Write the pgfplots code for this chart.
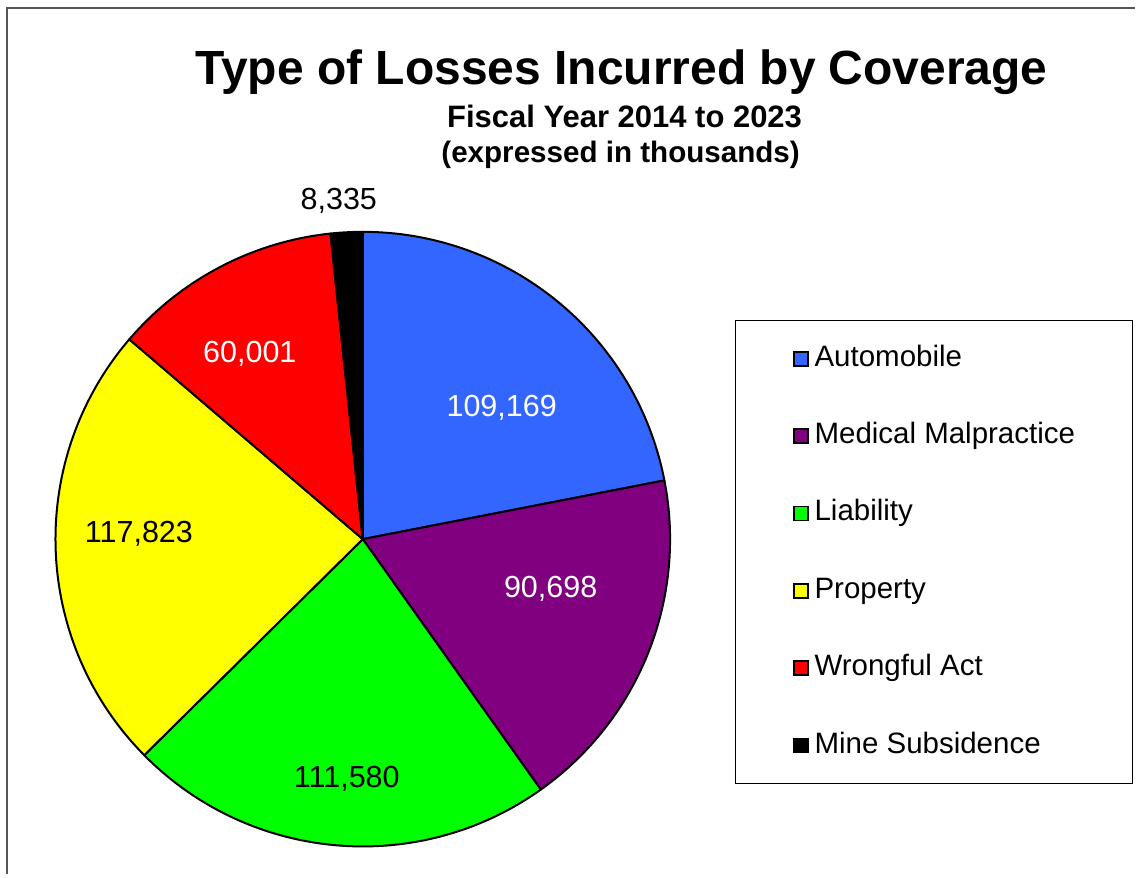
\documentclass[border=0pt]{standalone}
\usepackage{pgfplots}
\usepackage{pgfplotstable}
\pgfplotsset{compat=1.18}
\usepackage{fontspec}
\setmainfont{Liberation Sans}

\definecolor{autoblue}{HTML}{3366FF}
\definecolor{medpurple}{HTML}{800080}
\definecolor{liabgreen}{HTML}{00FF00}
\definecolor{propyellow}{HTML}{FFFF00}
\definecolor{wrongred}{HTML}{FF0000}
\definecolor{frame}{HTML}{555555}

% losses in thousands; label baseline position (px) and label colour
\pgfplotstableread[col sep=comma]{
name,value,fillc,lx,ly,lc
Automobile,109169,autoblue,502,458,white
Medical Malpractice,90698,medpurple,551,277,white
Liability,111580,liabgreen,347,87,black
Property,117823,propyellow,139,332,black
Wrongful Act,60001,wrongred,250,512,white
Mine Subsidence,8335,black,339,665,black
}\losses

\begin{document}
\begin{tikzpicture}
\path (0,0) rectangle (1136pt,875pt);
\begin{axis}[
    width=1136pt, height=875pt, scale only axis,
    xmin=0, xmax=1136, ymin=0, ymax=875,
    hide axis, clip=false,
    /pgf/number format/assume math mode=true,
    legend image code/.code={\draw[line width=1.8pt,#1] (0pt,-7pt) rectangle (14pt,7pt);},
    legend cell align=left,
    legend style={at={(0.64701,0.63429)}, anchor=north west,
        draw=black, line width=1pt,
        font=\fontsize{29.5}{34}\selectfont,
        inner xsep=57.8pt, inner ysep=25pt,
        nodes={inner sep=0pt, text height=21pt, text depth=6pt},
        row sep=50.4pt, column sep=6pt},
]
\pgfplotsinvokeforeach{0,...,5}{
    \pgfplotstablegetelem{#1}{fillc}\of\losses
    \edef\tmp{\noexpand\addlegendimage{fill=\pgfplotsretval, draw=black}}\tmp
    \pgfplotstablegetelem{#1}{name}\of\losses
    \addlegendentryexpanded{\pgfplotsretval}
}
\pgfplotsextra{
    \edef\total{0}
    \foreach \i in {0,...,5}{
        \pgfplotstablegetelem{\i}{value}\of\losses
        \xdef\total{\fpeval{\total+\pgfplotsretval}}
    }
    \gdef\start{90}
    \foreach \i in {0,...,5}{
        \pgfplotstablegetelem{\i}{value}\of\losses \let\v\pgfplotsretval
        \pgfplotstablegetelem{\i}{fillc}\of\losses \let\c\pgfplotsretval
        \xdef\stop{\fpeval{\start-360*\v/\total}}
        \filldraw[fill=\c, draw=black, line width=2pt, line join=round]
            (axis cs:363,335.5) -- ++(\start:307.5pt)
            arc[start angle=\start, end angle=\stop, radius=307.5pt] -- cycle;
        \global\let\start\stop
    }
    \foreach \i in {0,...,5}{
        \pgfplotstablegetelem{\i}{value}\of\losses \let\v\pgfplotsretval
        \pgfplotstablegetelem{\i}{lx}\of\losses \let\lx\pgfplotsretval
        \pgfplotstablegetelem{\i}{ly}\of\losses \let\ly\pgfplotsretval
        \pgfplotstablegetelem{\i}{lc}\of\losses \let\lc\pgfplotsretval
        \node[text=\lc, font=\fontsize{30.5}{36}\selectfont, anchor=base, inner sep=0pt]
            at (axis cs:\lx,\ly)
            {\pgfmathprintnumber[fixed, precision=0, 1000 sep={,}]{\v}};
    }
}
\draw[frame, line width=1.5pt] (axis cs:7,0) -- (axis cs:7,867) -- (axis cs:1136,867);
\node[font=\bfseries\fontsize{48}{56}\selectfont, anchor=base] at (axis cs:622,790)
    {Type of Losses Incurred by Coverage};
\node[font=\bfseries\fontsize{31}{37}\selectfont, anchor=base] at (axis cs:625,747)
    {Fiscal Year 2014 to 2023};
\node[font=\bfseries\fontsize{29.6}{36}\selectfont, anchor=base] at (axis cs:621,712)
    {(expressed in thousands)};
\end{axis}
\end{tikzpicture}
\end{document}
